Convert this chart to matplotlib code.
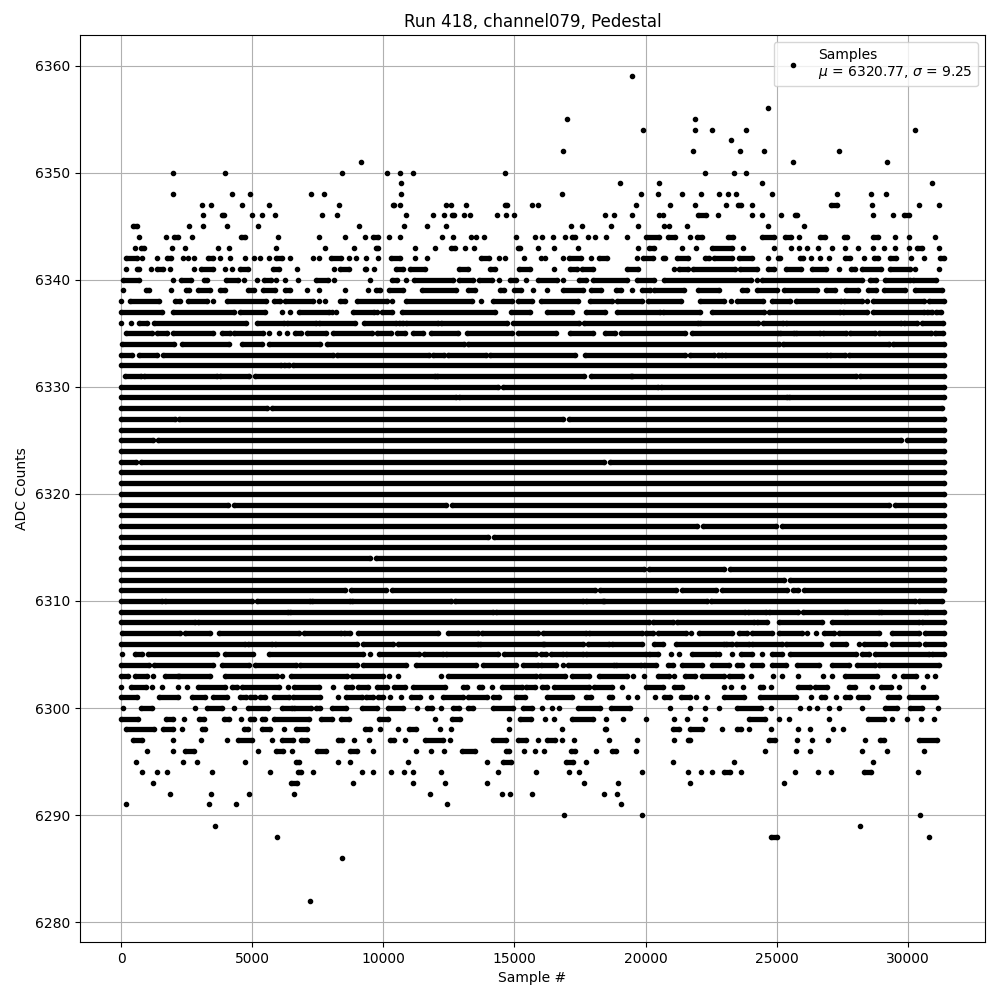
import matplotlib
matplotlib.use('Agg')
import matplotlib.pyplot as plt

# ADC level -> runs of consecutive samples
# a plain number is a single sample, a tuple (a, b) is a run of samples from a to b
upper_outliers = [
    (6359, [19500]),
    (6356, [24680]),
    (6355, [16990, 21870]),
    (6354, [19920, 21870, 22550, 23850, 30280]),
    (6353, [23270]),
    (6352, [16840, 21830, 23620, 24530, 27390]),
    (6351, [9140, 25630, 29210]),
    (6350, [1990, 3970, 8430, 10140, 10630, 11130, 14630, 22280, 23390, 23850]),
    (6349, [10670, 19010, 20530, 24450, 30930]),
    (6348, [1990, 4240, 4920, 7250, 7740, 10670, 16800, 19810, 20460, 21410, 22130,
            22810, 23160, 23460, 24830, 27310, 28600, 29170]),
    (6347, [3100, 3440, 4620, 5650, 8310, (10360, 10400), 10630, 12390, 12580, 13150,
            (14630, 14710), 15660, 15890, 19620, 20950, 21870, 23080, (23540, 23650),
            24070, (27080, 27310), 28640, 30430, 31190]),
    (6346, [3130, (3850, 3930), 5000, 5380, 5870, 7660, 8230, 10860, 11890, 12310,
            (12610, 12690), 13070, 13300, 14330, 14670, 14970, 18440, 18780, 19500,
            20530, 20680, (22020, 22320), 22780, 24070, 24450, 25180, (25710, 25790),
            28680, 29440, (29860, 30050)]),
    (6345, [(470, 600), 2600, 3130, 4050, 5230, 9070, 10790, 11660, 12390, 17140, 17560,
            18670, 19730, 20720, 20880, 21600, 24680, 26050]),
    (6344, [700, 1720, (2030, 2180), 2710, (4580, 4730), 5990, 7550, 8540, 9300,
            (9610, 9800), 10210, 10630, 12230, 12650, 13340, 13530, 13830, 15050, 15770,
            16040, 16460, 16920, (17180, 17300), 17790, 18060, 18510, 19280, (20000, 20530),
            (20840, 21140), 21680, (21980, 22170), (23160, 23350), (24450, 24910),
            (25330, 25560), 25860, (26660, 26850), (27580, 27690), (28680, 28870), 29520,
            30050, 31040]),
    (6343, [510, (740, 890), 1950, 2440, 3700, 4120, 5910, 7780, 8880, (9710, 9800), 11200,
            11970, (12580, 12730), 13110, 13450, (15130, 15200), 15890, 16500, 17410, 19700,
            (20150, 20340), 21410, 21940, (22550, 23310), 23730, 24910, 25560, 25860, 26170,
            26590, 27120, 27610, 28110, 28680, 29100, 29520, 30050, (30350, 30550), 31190]),
]

upper_edge = [
    (6342, [(170, 590), 780, 1350, (1760, 1920), 2370, 2560, 2790, (3330, 3520), 3780, 4160,
            4730, 5080, 5310, 5650, (5910, 6140), 6450, 7320, 7550, (8010, 8390), 8690, 8960,
            9340, 9800, (10290, 10640), 11210, 11660, (13720, 14020), 14400, 14630, 15360,
            16000, 16150, 16840, (17070, 17530), 17940, (18210, 18550), 19660, (19920, 20300),
            (20680, 20760), (21220, 21640), (22280, 22440), (22630, 23310), (23580, 24070),
            24680, (25060, 25140), (25900, 26010), 26320, 26660, 27000, (27610, 27800), 28340,
            (28720, 28870), (29330, 29560), 30130, 30620, (31230, 31380)]),
    (6341, [170, (620, 700), 1120, (1350, 1610), 1880, 2790, (3060, 3520), 3970, 4240,
            (4540, 4850), (5800, 6030), 6710, 8120, (8350, 8690), (9300, 9340), 9650,
            (10480, 10750), (11000, 11590), (12880, 13220), (14060, 14250), (15160, 15580),
            16500, (17110, 17370), (17560, 17980), (19280, 19700), 21070, (21290, 21640),
            (21830, 23430), (23620, 24260), (24680, 24910), (25370, 25940), (26360, 26890),
            27390, (27840, 27990), (28260, 28980), (29330, 30090), 30280, 31190]),
    (6340, [(90, 700), 1960, (2300, 2680), (3170, 3290), (4010, 4470), 4700, 5190,
            (5460, 5720), 5910, 6260, 6750, (7440, 7890), 8120, 9490, (10330, 10520), 10860,
            (11170, 12650), (12880, 13410), (13640, 14140), 14400, (14820, 15050), 15430,
            (15890, 16610), 16840, (17450, 17720), (17980, 19310), (19660, 20340),
            (20720, 24040), 24260, (24450, 28260), (28570, 28790), (29140, 30090),
            (30200, 31080)]),
    (6339, [90, (930, 1080), 1920, (2490, 2600), (2950, 3400), (3780, 3970), (4850, 5080),
            (5420, 5880), (6260, 6450), 7090, 7550, 8540, 9420, (9720, 9870), (10220, 10750),
            (11470, 12770), (13220, 13490), (14440, 14590), (14970, 15240), 15700, 16230,
            (16840, 17600), (17940, 18290), (18860, 19050), 19500, (19850, 20190),
            (20340, 21450), (22020, 22820), (23690, 23880), (24260, 25030), (25290, 26550),
            (26890, 27230), (27650, 28110), (28490, 28790), (29100, 29900), (30280, 31310)]),
    (6338, [10, (320, 1460), (2070, 2260), (2560, 3290), 3520, (4050, 5530), (5840, 6070),
            (6260, 7320), 7550, 7780, (8350, 8540), (9000, 10140), 10330, (10860, 13380),
            13720, (14170, 14900), (15130, 15660), (16000, 17410), (17870, 18740),
            (18900, 19850), (20080, 21370), (22060, 23010), 23270, (23500, 24490),
            (24830, 25520), (25750, 27460), (27580, 28260), 28450, (28680, 30620),
            (30810, 31380)]),
    (6337, [(10, 1570), (1990, 4320), (4540, 5500), 6140, 6450, (6790, 7930), 8050, 8200,
            (8850, 9650), 9760, (9950, 10330), (10710, 14250), (14860, 15580), (16230, 17180),
            (17720, 18440), (18930, 20570), (20680, 22090), (22550, 24530), (24720, 27420),
            (27540, 28450), (28680, 30620), (30740, 30930), (31080, 31270)]),
]

band = [
    (6336, [10, 390, (700, 1000), (1270, 4770), (5190, 6220), (6330, 7440), (7550, 8920),
            (9260, 10480), (10600, 10750), (10860, 12080), (12200, 14710), (14940, 17450),
            (17640, 22020), (22090, 24300), (24490, 25250), (25370, 29750), (29860, 30360),
            (30550, 31340)]),
    (6335, [(200, 1190), (1350, 1760), (1990, 3520), (3860, 4160), (4320, 5420), 5650, 6030,
            6330, (6640, 6870), (7090, 7820), (8080, 9570), (9760, 10290), (10520, 10830),
            (11130, 11510), (11810, 12840), (13190, 14900), (15130, 16570), (17110, 17980),
            (18440, 18820), (19050, 21520), (21790, 25060), (25140, 25670), (25750, 26660),
            (26780, 27650), (27800, 28760), (28910, 30890), (31040, 31340)]),
    (6334, [(50, 2030), (2340, 4130), (4620, 5380), (5650, 7600), (7860, 13070),
            (13220, 25100), (25250, 29290), (29440, 31380)]),
    (6333, [(10, 430), (700, 1380), (1610, 8080), (8240, 11740), (11890, 12310),
            (12460, 13910), (14060, 17330), (17680, 21520), (21680, 22630), (22780, 22930),
            (23050, 26930), (27040, 27610), (27770, 31380)]),
    (6332, [(0, 6100), (6220, 6410), (6560, 31380)]),
    (6331, [(130, 740), (890, 3670), (3780, 4890), (5120, 11970), (12040, 17640),
            (17940, 19430), (19500, 28030), (28190, 31380)]),
    (6330, [(0, 14370), (14560, 20460), (20610, 31380)]),
    (6329, [(0, 12770), (12880, 25400), (25480, 31380)]),
    (6328, [(0, 5560), (5740, 31310)]),
    (6327, [(0, 2070), (2220, 16850), (17080, 31380)]),
    (6326, [(0, 31380)]),
    (6325, [(0, 1200), (1420, 29750), (29970, 31380)]),
    (6324, [(0, 31380)]),
    (6323, [(0, 550), (770, 18400), (18630, 31380)]),
    (6322, [(0, 31380)]),
    (6321, [(0, 31380)]),
    (6320, [(0, 31380)]),
    (6319, [(0, 4090), (4310, 12390), (12610, 29290), (29510, 31380)]),
    (6318, [(0, 31380)]),
    (6317, [(0, 21980), (22200, 24990), (25210, 31380)]),
    (6316, [(0, 13990), (14210, 31380)]),
    (6315, [(0, 31380)]),
    (6314, [(0, 9500), (9720, 31380)]),
    (6313, [(0, 19930), (20150, 22990), (23210, 31380)]),
    (6312, [(0, 25290), (25510, 31380)]),
    (6311, [(0, 8540), (8760, 10110), (10330, 18060), (18280, 21170), (21390, 22690),
            (22930, 25390), (25620, 25830), (26060, 31380)]),
    (6310, [(0, 1570), (1690, 5000), (5190, 7210), (7290, 8730), (8810, 12590),
            (12720, 17600), (17730, 18360), (18420, 22360), (22480, 30290), (30420, 31310)]),
    (6309, [(0, 6370), (6450, 14180), (14300, 23800), (23900, 24600), (24700, 25800),
            (26000, 27600), (27700, 28900), (29000, 30650), (30750, 31380)]),
    (6308, [(0, 2830), (2950, 20140), (20270, 21030), (21220, 24140), (24260, 24640),
            (25090, 26740), (27120, 30420), (30540, 31380)]),
]

lower_edge = [
    (6307, [(50, 2260), (2450, 3400), (3740, 6790), (6980, 8390), (8500, 8730), (9040, 12080),
            (12460, 13600), (13760, 15890), (16080, 17730), (17830, 19880), (20010, 20270),
            (20490, 21530), 21720, (22040, 23310), (23570, 23880), (24070, 24840),
            (25090, 25980), 26170, 26490, (26800, 27190), (27370, 28900), (29400, 30420),
            (30670, 31380)]),
    (6306, [(0, 4730), (4850, 5760), (5880, 9000), (9230, 10370), (10560, 13600),
            (13670, 16080), (16140, 17600), (17790, 18620), (18740, 19880), (20330, 20650),
            (21150, 23000), (23060, 23310), (23440, 23950), (24070, 25220), (25340, 26680),
            (27120, 27630), 28130, (28330, 29150), (29400, 30420), (30670, 31380)]),
    (6305, [50, (510, 810), (1040, 3670), (3970, 5040), (5650, 9230), 9490, (9840, 11380),
            (11570, 12270), (12400, 14370), (14620, 15830), (16010, 16200), (16400, 16840),
            (16970, 17600), (17730, 20010), (20140, 20460), 20960, 21280, (21790, 22680),
            22800, 23310, (23630, 24070), 24450, (24830, 25220), (25530, 28010),
            (28260, 28510), (28770, 30800), (30930, 31380)]),
    (6304, [(10, 1080), (1270, 3520), (3860, 4890), (5120, 6680), (6830, 9000), (9230, 10860),
            (11260, 13540), (13790, 15060), (15310, 15890), (16010, 16590), 16840,
            (17030, 18810), (18870, 19820), (19950, 20390), (20840, 21030), (21410, 22170),
            (22550, 23190), (23500, 23690), (24070, 24450), (24830, 25340), (25790, 26610),
            (27120, 27750), (28070, 28770), (28900, 31180)]),
    (6303, [(0, 280), (510, 1000), 1230, (1690, 2150), (2220, 3400), (3970, 5950), 6140,
            (6490, 8620), (8810, 9990), 10220, 10560, 12200, (12460, 15810), (15960, 16920),
            (17180, 17830), (18210, 19280), 19540, 19960, (20490, 20880), 21070,
            (21520, 21900), (22170, 23010), (23200, 23690), 24040, 24870, 25220, 25820, 26780,
            27120, (27610, 28830), 29480, (29820, 30320), 30740, 31040]),
    (6302, [10, (360, 930), 1190, 1570, 2150, 2530, (2950, 3970), (4240, 4430), (4620, 6030),
            6370, (6600, 7550), 8080, (8580, 8810), (9040, 9420), (9760, 10140),
            (10410, 10830), (11130, 12350), (13030, 13190), (13640, 13760), 14140,
            (14520, 15280), (15430, 15770), (16040, 16230), (16500, 17830), (18020, 18740),
            19120, (20000, 20650), (21100, 21410), 23010, 23270, 23730, (24380, 24490), 24800,
            (25820, 26280), (26470, 26930), (27770, 27990), 28640, (28980, 29370), 29670,
            30580]),
    (6301, [(10, 620), (1460, 2180), (2720, 3210), (3520, 4050), (4540, 4770), (4920, 5120),
            (5310, 5500), (5840, 6410), (6560, 7590), 8270, (8580, 9190), (9340, 9610),
            (9800, 9990), 10250, 10670, (11050, 11400), 11810, (12270, 13030), (13220, 13950),
            (14170, 14400), (15050, 15390), (16230, 17180), (17720, 17940), (18590, 18740),
            19350, 19660, 20380, (20720, 20950), (21370, 21710), 21940, 22360, (23010, 23770),
            (24380, 25750), 26320, (26700, 26850), 27270, (27610, 27800), (28110, 28490),
            (29250, 29670), (30050, 31080)]),
    (6300, [90, (740, 1190), 2830, (3290, 3860), 4320, (4850, 5610), (6140, 6520),
            (6600, 7250), (7440, 7590), (8050, 8580), (9190, 9760), (10180, 10750), 11300,
            (11660, 11850), 12200, (12650, 12880), (13220, 13410), (14170, 14940),
            (15320, 15660), 16040, 16420, 16690, (17410, 18250), (18670, 19390), 20950, 21680,
            22280, 22820, (23500, 24420), 24800, 25900, 26240, 26550, 27000, 27390, 28260,
            (29140, 29590), (30090, 30550), 31150]),
]

lower_outliers = [
    (6299, [(10, 660), (1730, 1990), 2410, (2980, 3170), (3930, 4130), 4580, (4920, 5080),
            (5380, 5500), (5840, 7170), (7630, 8050), (8390, 8690), (9840, 10180), 11970,
            (12610, 12920), 14780, (15200, 15620), 16150, 16500, (17180, 17980), 18510, 19160,
            20000, 21070, 21600, 22280, (23960, 24570), 25100, 25480, 27000, (28490, 29100),
            29400, 29970, 30510, 31000]),
    (6298, [(200, 1270), (1610, 1960), 2340, (3100, 3210), (4700, 4850), (5380, 5690), 6220,
            (6680, 7090), (9300, 9490), 9870, 10560, (10980, 11240), 12160, 12580, 14780,
            16800, (18440, 18480), (21030, 21260), (21710, 22170), 22930, (23500, 23650),
            23960, 24800, 25820, 26280, 27160, 27540]),
    (6297, [(470, 780), 1960, 3060, 4050, (4470, 5000), 5760, (6140, 6560), (6870, 7090),
            (8270, 8430), 8880, 9460, (10250, 10410), 10830, (11590, 12270), 12540,
            (14170, 14670), (15130, 15430), 15890, (16230, 16540), 16800, 17260, 18590, 19660,
            21070, (21640, 21710), (24720, 24950), 25790, 26360, 26970, 28380, (28950, 29100),
            (30430, 31120)]),
    (6296, [970, 1990, (2450, 2790), 5230, (5910, 6180), 6520, (7480, 7820), (8730, 9000),
            9610, 11240, 11810, 12310, (12990, 13490), (14670, 14780), 15360, 15770, 16120,
            (17140, 17330), 18130, (18740, 18860), 19620, 24570, 25750, 26280, 28260, 29210,
            30620]),
    (6295, [550, 2370, 2910, 4730, (6680, 6790), 8270, 8730, 10940, 13950, (14560, 14860),
            (16950, 17220), 17720, 21030, 23390, 28680]),
    (6294, [810, 1350, 1760, 3480, 5690, (6750, 6870), 7320, 9190, 9610, 10290, 10790, 11130,
            12200, 14370, 15810, 17070, 17450, 19850, 21640, 22130, 22550, (23010, 23240),
            23650, 25710, 26590, 27080, (28340, 28600), 30390]),
    (6293, [1230, (6490, 6710), 8850, 11130, 12350, 13950, 17640, 18970, 21710, 25290]),
    (6292, [1880, 3440, 4890, 6600, 11780, 14520, 14820, 15660, 18400, 18900]),
    (6291, [200, 3360, 4390, 12420, 19050]),
    (6290, [16880, 19850, 30470]),
    (6289, [3590, 28190]),
    (6288, [5950, (24800, 25030), 30810]),
    (6286, [8430]),
    (6282, [7210]),
]

mean_adc = 6320.77
std_adc = 9.25

fig, ax = plt.subplots(figsize=(10, 10), dpi=100)

seg_y, seg_x0, seg_x1 = [], [], []
dot_x, dot_y = [], []
for group in (upper_outliers, upper_edge, band, lower_edge, lower_outliers):
    for level, runs in group:
        for r in runs:
            if isinstance(r, tuple):
                seg_y.append(level)
                seg_x0.append(r[0])
                seg_x1.append(r[1])
                dot_x += [r[0], r[1]]
                dot_y += [level, level]
            else:
                dot_x.append(r)
                dot_y.append(level)

ax.hlines(seg_y, seg_x0, seg_x1, colors='k', linewidth=3.8, zorder=2)
ax.plot(dot_x, dot_y, 'k.',
        label='Samples\n$\\mu$ = %.2f, $\\sigma$ = %.2f' % (mean_adc, std_adc))

ax.set_title('Run 418, channel079, Pedestal')
ax.set_xlabel('Sample #')
ax.set_ylabel('ADC Counts')
ax.grid()
ax.legend(loc='upper right')

plt.subplots_adjust(left=0.08, right=0.985, top=0.965, bottom=0.058)
plt.savefig('out.png')
